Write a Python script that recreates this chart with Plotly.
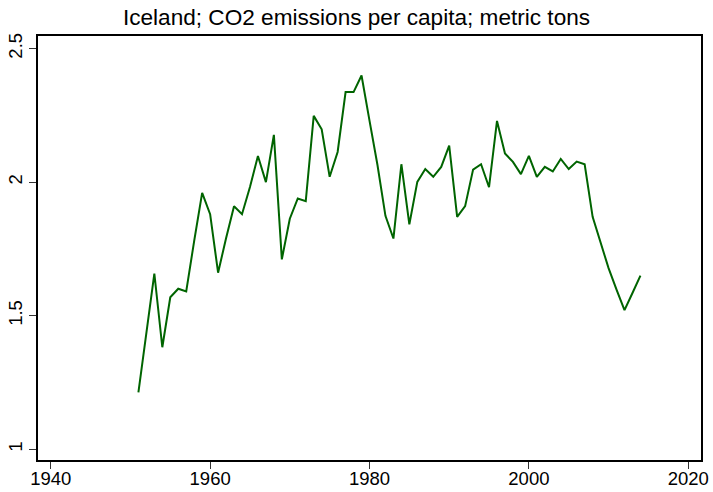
import plotly.graph_objects as go

# Iceland, CO2 emissions per capita (metric tons), 1951-2014
years = list(range(1951, 2015))
co2_per_capita = [
    1.213, 1.435, 1.658, 1.382, 1.569, 1.601, 1.591, 1.780, 1.960, 1.880,
    1.661, 1.790, 1.910, 1.880, 1.982, 2.098, 2.000, 2.177, 1.711, 1.863,
    1.939, 1.929, 2.248, 2.198, 2.020, 2.113, 2.337, 2.337, 2.399, 2.230,
    2.064, 1.874, 1.789, 2.067, 1.842, 2.001, 2.049, 2.020, 2.057, 2.137,
    1.870, 1.910, 2.047, 2.067, 1.981, 2.229, 2.107, 2.076, 2.030, 2.098,
    2.020, 2.057, 2.040, 2.087, 2.049, 2.077, 2.067, 1.870, 1.771, 1.678,
    1.598, 1.521, 1.585, 1.650,
]

x_ticks = [1940, 1960, 1980, 2000, 2020]
y_ticks = [1, 1.5, 2, 2.5]
y_tick_text = ["1", "1.5", "2", "2.5"]

W, H = 713, 492
L, R, T, B = 38, 12, 36, 32

fig = go.Figure(
    go.Scatter(
        x=years,
        y=co2_per_capita,
        mode="lines",
        line=dict(color="#006400", width=2),
        hoverinfo="x+y",
    )
)

font_family = "Liberation Sans, Arial, sans-serif"
axis_common = dict(
    showgrid=False,
    zeroline=False,
    showline=True,
    linecolor="black",
    linewidth=1.5,
    mirror=True,
    ticks="outside",
    ticklen=7,
    tickwidth=1.2,
    tickcolor="#333333",
    automargin=False,
    tickfont=dict(family=font_family, size=18.5, color="black"),
)

fig.update_layout(
    width=W,
    height=H,
    margin=dict(l=L, r=R, t=T, b=B),
    paper_bgcolor="white",
    plot_bgcolor="white",
    showlegend=False,
    title=dict(
        text="Iceland; CO2 emissions per capita; metric tons",
        font=dict(family=font_family, size=22.6, color="black"),
        x=0.5,
        xref="container",
        xanchor="center",
        y=1 - 17 / H,
        yref="container",
        yanchor="middle",
    ),
    xaxis=dict(
        range=[1938.4, 2021.6],
        tickvals=x_ticks,
        ticklabelstandoff=-6,
        **axis_common,
    ),
    yaxis=dict(
        range=[0.960, 2.547],
        tickvals=y_ticks,
        ticktext=y_tick_text,
        tickangle=-90,
        **axis_common,
    ),
)

fig.write_html("out.html")
